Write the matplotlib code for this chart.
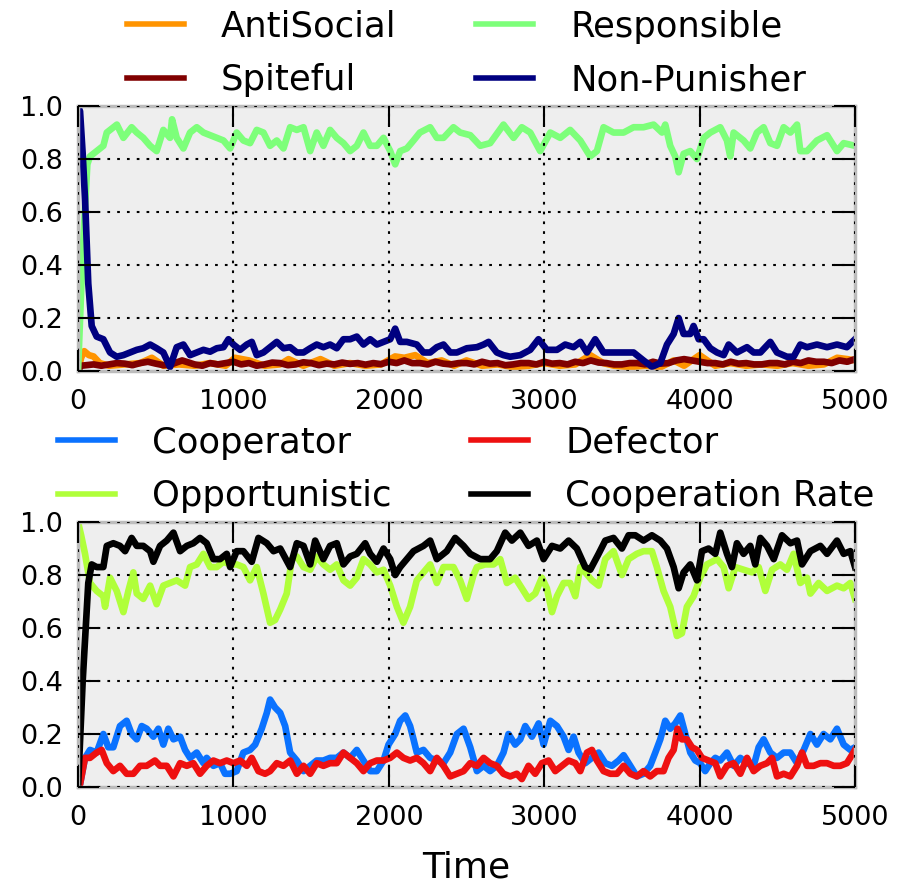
import matplotlib
matplotlib.use("Agg")
import matplotlib.pyplot as plt

# ---- population shares over time (time, share) ----
antisocial = [(0, 0.0), (20, 0.05), (40, 0.075), (70, 0.06), (100, 0.055), (140, 0.03), (200, 0.02),
              (300, 0.025), (400, 0.03), (475, 0.05), (550, 0.02), (650, 0.025), (750, 0.02), (850, 0.03),
              (950, 0.02), (1010, 0.05), (1100, 0.04), (1200, 0.02), (1300, 0.025), (1355, 0.045),
              (1450, 0.02), (1560, 0.045), (1650, 0.02), (1750, 0.03), (1850, 0.02), (1950, 0.025),
              (2040, 0.055), (2100, 0.05), (2170, 0.06), (2250, 0.03), (2340, 0.04), (2420, 0.02),
              (2500, 0.04), (2600, 0.02), (2700, 0.025), (2800, 0.015), (2900, 0.02), (3000, 0.03),
              (3100, 0.02), (3200, 0.025), (3296, 0.06), (3380, 0.03), (3450, 0.02), (3550, 0.015),
              (3650, 0.02), (3750, 0.015), (3833, 0.04), (3900, 0.02), (4000, 0.06), (4100, 0.02),
              (4200, 0.03), (4300, 0.02), (4400, 0.025), (4500, 0.02), (4600, 0.03), (4700, 0.02),
              (4800, 0.025), (4885, 0.05), (4950, 0.045), (5000, 0.04)]

spiteful = [(0, 0.0), (20, 0.02), (100, 0.025), (150, 0.02), (200, 0.025), (250, 0.03), (300, 0.028),
            (350, 0.022), (400, 0.03), (450, 0.035), (500, 0.028), (550, 0.022), (600, 0.025), (670, 0.04),
            (750, 0.025), (800, 0.02), (850, 0.03), (900, 0.025), (950, 0.03), (1000, 0.035), (1050, 0.025),
            (1100, 0.03), (1150, 0.02), (1200, 0.025), (1250, 0.032), (1300, 0.03), (1350, 0.022),
            (1400, 0.025), (1450, 0.033), (1500, 0.03), (1550, 0.022), (1600, 0.028), (1650, 0.025),
            (1700, 0.032), (1750, 0.027), (1800, 0.03), (1850, 0.024), (1900, 0.03), (1950, 0.026),
            (2000, 0.035), (2050, 0.03), (2100, 0.04), (2150, 0.03), (2200, 0.03), (2250, 0.025),
            (2300, 0.035), (2350, 0.028), (2400, 0.025), (2450, 0.03), (2500, 0.03), (2550, 0.025),
            (2600, 0.035), (2650, 0.028), (2700, 0.03), (2750, 0.022), (2800, 0.025), (2850, 0.03),
            (2900, 0.03), (2950, 0.025), (3000, 0.035), (3050, 0.028), (3100, 0.03), (3150, 0.025),
            (3200, 0.035), (3250, 0.03), (3300, 0.04), (3350, 0.032), (3400, 0.03), (3450, 0.025),
            (3500, 0.025), (3550, 0.03), (3600, 0.03), (3650, 0.025), (3700, 0.035), (3750, 0.028),
            (3800, 0.03), (3850, 0.04), (3900, 0.045), (3950, 0.04), (4000, 0.035), (4050, 0.03),
            (4100, 0.03), (4150, 0.025), (4200, 0.035), (4250, 0.028), (4300, 0.03), (4350, 0.025),
            (4400, 0.025), (4450, 0.03), (4500, 0.03), (4550, 0.025), (4600, 0.035), (4650, 0.03),
            (4700, 0.04), (4750, 0.035), (4800, 0.035), (4850, 0.03), (4900, 0.04), (4950, 0.035),
            (5000, 0.045)]

responsible = [(0, 0.0), (30, 0.45), (60, 0.78), (77, 0.81), (120, 0.83), (163, 0.85), (185, 0.90),
               (250, 0.93), (292, 0.88), (345, 0.92), (378, 0.90), (420, 0.88), (464, 0.85), (506, 0.83),
               (549, 0.91), (592, 0.88), (605, 0.95), (635, 0.88), (678, 0.84), (721, 0.90), (764, 0.92),
               (807, 0.90), (850, 0.89), (893, 0.88), (936, 0.87), (979, 0.84), (1021, 0.90), (1064, 0.87),
               (1107, 0.86), (1150, 0.91), (1193, 0.90), (1236, 0.85), (1279, 0.87), (1322, 0.84),
               (1365, 0.92), (1408, 0.91), (1451, 0.92), (1494, 0.83), (1536, 0.90), (1579, 0.85),
               (1622, 0.91), (1665, 0.88), (1708, 0.86), (1751, 0.83), (1794, 0.85), (1837, 0.90),
               (1880, 0.85), (1923, 0.85), (1966, 0.88), (2009, 0.83), (2041, 0.78), (2073, 0.83),
               (2116, 0.84), (2159, 0.87), (2200, 0.90), (2266, 0.92), (2309, 0.88), (2352, 0.88),
               (2416, 0.92), (2459, 0.90), (2524, 0.89), (2588, 0.85), (2652, 0.86), (2738, 0.93),
               (2803, 0.88), (2856, 0.92), (2910, 0.90), (2974, 0.83), (3039, 0.90), (3103, 0.88),
               (3167, 0.91), (3232, 0.87), (3296, 0.81), (3339, 0.83), (3382, 0.92), (3446, 0.90),
               (3511, 0.90), (3575, 0.92), (3639, 0.92), (3704, 0.93), (3758, 0.90), (3779, 0.93),
               (3811, 0.85), (3843, 0.81), (3865, 0.75), (3897, 0.82), (3940, 0.83), (3983, 0.80),
               (4026, 0.88), (4069, 0.90), (4133, 0.92), (4176, 0.87), (4197, 0.81), (4219, 0.90),
               (4283, 0.87), (4326, 0.84), (4369, 0.90), (4412, 0.92), (4455, 0.86), (4498, 0.85),
               (4541, 0.92), (4584, 0.90), (4627, 0.93), (4648, 0.83), (4691, 0.83), (4755, 0.87),
               (4820, 0.89), (4884, 0.83), (4927, 0.86), (5000, 0.85)]

non_punisher = [(0, 1.0), (13, 0.98), (30, 0.82), (45, 0.65), (66, 0.33), (88, 0.17), (120, 0.13),
                (163, 0.12), (206, 0.07), (249, 0.054), (292, 0.06), (335, 0.07), (378, 0.08), (420, 0.086),
                (464, 0.10), (506, 0.086), (549, 0.07), (592, 0.015), (635, 0.09), (678, 0.10), (721, 0.06),
                (764, 0.07), (807, 0.08), (850, 0.073), (893, 0.086), (936, 0.09), (968, 0.12), (1000, 0.10),
                (1043, 0.08), (1086, 0.10), (1118, 0.11), (1150, 0.06), (1193, 0.07), (1236, 0.09),
                (1279, 0.11), (1322, 0.086), (1365, 0.09), (1408, 0.07), (1451, 0.07), (1494, 0.086),
                (1536, 0.10), (1579, 0.09), (1622, 0.10), (1665, 0.086), (1708, 0.12), (1751, 0.12),
                (1794, 0.13), (1837, 0.10), (1880, 0.12), (1923, 0.10), (1966, 0.11), (2009, 0.12),
                (2041, 0.16), (2073, 0.11), (2116, 0.11), (2180, 0.10), (2223, 0.07), (2266, 0.07),
                (2309, 0.09), (2352, 0.10), (2395, 0.07), (2438, 0.07), (2502, 0.086), (2567, 0.09),
                (2610, 0.10), (2642, 0.11), (2695, 0.07), (2738, 0.06), (2781, 0.054), (2846, 0.06),
                (2910, 0.08), (2963, 0.12), (3017, 0.08), (3082, 0.08), (3135, 0.10), (3189, 0.09),
                (3232, 0.11), (3275, 0.07), (3328, 0.12), (3382, 0.07), (3446, 0.07), (3511, 0.07),
                (3575, 0.07), (3639, 0.04), (3693, 0.016), (3747, 0.03), (3790, 0.10), (3833, 0.14),
                (3865, 0.20), (3897, 0.14), (3940, 0.14), (3961, 0.17), (3994, 0.12), (4026, 0.12),
                (4069, 0.086), (4112, 0.07), (4155, 0.06), (4187, 0.10), (4240, 0.07), (4305, 0.09),
                (4348, 0.07), (4391, 0.07), (4455, 0.11), (4498, 0.07), (4562, 0.054), (4605, 0.054),
                (4648, 0.10), (4691, 0.09), (4755, 0.10), (4820, 0.09), (4884, 0.10), (4948, 0.09),
                (5000, 0.12)]

# ---- strategies and cooperation level over time (time, share) ----
cooperator = [(0, 0.0), (13, 0.01), (45, 0.11), (77, 0.14), (120, 0.13), (163, 0.20), (195, 0.15),
              (227, 0.15), (270, 0.23), (313, 0.25), (345, 0.20), (378, 0.18), (410, 0.23), (442, 0.22),
              (485, 0.19), (517, 0.22), (549, 0.16), (581, 0.22), (614, 0.18), (657, 0.19), (689, 0.14),
              (721, 0.11), (764, 0.13), (807, 0.09), (828, 0.11), (871, 0.08), (914, 0.09), (946, 0.05),
              (979, 0.05), (1021, 0.06), (1064, 0.13), (1107, 0.14), (1140, 0.16), (1182, 0.22),
              (1215, 0.28), (1236, 0.33), (1268, 0.30), (1301, 0.28), (1333, 0.23), (1365, 0.13),
              (1408, 0.10), (1451, 0.06), (1494, 0.08), (1536, 0.10), (1579, 0.10), (1622, 0.11),
              (1665, 0.11), (1708, 0.13), (1751, 0.11), (1794, 0.14), (1837, 0.10), (1880, 0.06),
              (1923, 0.06), (1966, 0.10), (1998, 0.16), (2041, 0.20), (2073, 0.25), (2106, 0.27),
              (2137, 0.23), (2159, 0.18), (2180, 0.13), (2223, 0.14), (2266, 0.11), (2309, 0.10),
              (2352, 0.09), (2395, 0.13), (2438, 0.20), (2481, 0.22), (2524, 0.15), (2567, 0.06),
              (2610, 0.08), (2652, 0.06), (2695, 0.08), (2738, 0.13), (2770, 0.20), (2813, 0.16),
              (2846, 0.18), (2878, 0.23), (2921, 0.19), (2964, 0.24), (2996, 0.16), (3039, 0.25),
              (3082, 0.23), (3125, 0.19), (3157, 0.14), (3189, 0.19), (3221, 0.13), (3264, 0.09),
              (3307, 0.11), (3350, 0.13), (3393, 0.09), (3436, 0.08), (3479, 0.10), (3511, 0.12),
              (3554, 0.08), (3596, 0.04), (3639, 0.05), (3682, 0.08), (3715, 0.13), (3747, 0.18),
              (3779, 0.25), (3811, 0.22), (3843, 0.24), (3876, 0.27), (3908, 0.20), (3940, 0.13),
              (3972, 0.10), (4004, 0.09), (4036, 0.06), (4069, 0.09), (4101, 0.11), (4133, 0.10),
              (4176, 0.13), (4219, 0.08), (4262, 0.11), (4305, 0.09), (4348, 0.08), (4380, 0.15),
              (4412, 0.18), (4455, 0.13), (4498, 0.11), (4541, 0.13), (4584, 0.13), (4627, 0.09),
              (4670, 0.14), (4713, 0.20), (4755, 0.16), (4798, 0.20), (4841, 0.18), (4884, 0.22),
              (4927, 0.16), (4970, 0.14), (5000, 0.15)]

opportunistic = [(0, 1.0), (20, 0.95), (45, 0.88), (77, 0.77), (120, 0.74), (163, 0.72), (174, 0.68),
                 (206, 0.79), (249, 0.74), (292, 0.66), (324, 0.74), (356, 0.81), (378, 0.73), (420, 0.71),
                 (464, 0.76), (506, 0.69), (549, 0.76), (592, 0.77), (635, 0.78), (689, 0.76), (721, 0.83),
                 (764, 0.84), (807, 0.88), (850, 0.83), (893, 0.83), (936, 0.85), (979, 0.84), (1021, 0.84),
                 (1064, 0.83), (1107, 0.78), (1150, 0.83), (1193, 0.73), (1236, 0.62), (1268, 0.63),
                 (1301, 0.67), (1343, 0.73), (1376, 0.86), (1408, 0.87), (1451, 0.83), (1494, 0.82),
                 (1536, 0.87), (1579, 0.84), (1622, 0.82), (1665, 0.84), (1708, 0.78), (1751, 0.76),
                 (1794, 0.79), (1837, 0.86), (1880, 0.84), (1923, 0.81), (1966, 0.82), (2009, 0.76),
                 (2052, 0.68), (2094, 0.62), (2137, 0.68), (2180, 0.78), (2223, 0.81), (2266, 0.84),
                 (2309, 0.77), (2352, 0.83), (2416, 0.83), (2459, 0.78), (2502, 0.71), (2545, 0.80),
                 (2567, 0.83), (2620, 0.84), (2674, 0.84), (2717, 0.86), (2760, 0.77), (2813, 0.79),
                 (2867, 0.74), (2899, 0.71), (2942, 0.73), (2985, 0.79), (3017, 0.75), (3050, 0.66),
                 (3082, 0.72), (3125, 0.77), (3167, 0.77), (3200, 0.72), (3232, 0.83), (3264, 0.81),
                 (3307, 0.78), (3350, 0.76), (3393, 0.86), (3446, 0.89), (3500, 0.80), (3543, 0.86),
                 (3596, 0.88), (3639, 0.89), (3693, 0.89), (3725, 0.83), (3768, 0.74), (3811, 0.68),
                 (3854, 0.57), (3886, 0.58), (3918, 0.68), (3961, 0.72), (4004, 0.79), (4047, 0.84),
                 (4112, 0.86), (4155, 0.83), (4187, 0.75), (4230, 0.83), (4283, 0.82), (4337, 0.81),
                 (4380, 0.83), (4423, 0.74), (4466, 0.82), (4519, 0.84), (4562, 0.82), (4605, 0.88),
                 (4648, 0.77), (4691, 0.79), (4713, 0.73), (4766, 0.77), (4820, 0.74), (4884, 0.76),
                 (4927, 0.75), (4970, 0.77), (5000, 0.71)]

defector = [(0, 0.0), (13, 0.01), (45, 0.11), (77, 0.11), (120, 0.13), (152, 0.14), (185, 0.09),
            (227, 0.06), (270, 0.08), (313, 0.05), (356, 0.05), (399, 0.08), (442, 0.08), (495, 0.10),
            (528, 0.08), (571, 0.08), (614, 0.04), (657, 0.09), (700, 0.08), (742, 0.09), (785, 0.05),
            (828, 0.08), (871, 0.10), (914, 0.09), (957, 0.10), (1000, 0.09), (1043, 0.10), (1086, 0.08),
            (1118, 0.11), (1161, 0.06), (1204, 0.05), (1236, 0.06), (1279, 0.09), (1322, 0.08),
            (1365, 0.10), (1408, 0.05), (1451, 0.08), (1494, 0.05), (1536, 0.09), (1579, 0.08),
            (1622, 0.09), (1665, 0.09), (1708, 0.13), (1751, 0.11), (1794, 0.09), (1837, 0.06),
            (1880, 0.09), (1923, 0.10), (1966, 0.10), (2009, 0.11), (2052, 0.13), (2094, 0.11),
            (2137, 0.10), (2180, 0.11), (2223, 0.09), (2266, 0.06), (2309, 0.11), (2352, 0.08),
            (2395, 0.04), (2438, 0.05), (2481, 0.06), (2524, 0.09), (2567, 0.08), (2610, 0.11),
            (2652, 0.09), (2695, 0.08), (2738, 0.05), (2781, 0.04), (2824, 0.05), (2856, 0.03),
            (2899, 0.08), (2942, 0.05), (2985, 0.09), (3028, 0.10), (3071, 0.06), (3114, 0.08),
            (3157, 0.10), (3200, 0.09), (3232, 0.06), (3275, 0.13), (3307, 0.14), (3339, 0.10),
            (3382, 0.06), (3425, 0.05), (3468, 0.05), (3511, 0.08), (3554, 0.05), (3596, 0.04),
            (3639, 0.06), (3682, 0.04), (3725, 0.06), (3768, 0.06), (3800, 0.11), (3833, 0.14),
            (3858, 0.22), (3886, 0.18), (3918, 0.18), (3951, 0.15), (3983, 0.14), (4015, 0.11),
            (4058, 0.10), (4101, 0.09), (4133, 0.04), (4176, 0.08), (4219, 0.09), (4262, 0.05),
            (4305, 0.11), (4348, 0.06), (4391, 0.08), (4434, 0.09), (4466, 0.11), (4498, 0.04),
            (4541, 0.05), (4584, 0.04), (4627, 0.08), (4659, 0.13), (4691, 0.08), (4734, 0.08),
            (4777, 0.09), (4820, 0.09), (4863, 0.08), (4905, 0.08), (4948, 0.09), (5000, 0.14)]

cooperation_rate = [(0, 0.0), (30, 0.4), (66, 0.77), (88, 0.84), (120, 0.83), (163, 0.83), (185, 0.91),
                    (227, 0.92), (270, 0.91), (303, 0.89), (345, 0.94), (378, 0.91), (420, 0.91), (464, 0.89),
                    (485, 0.85), (528, 0.91), (571, 0.93), (614, 0.96), (657, 0.89), (700, 0.91), (742, 0.92),
                    (785, 0.94), (828, 0.92), (871, 0.86), (914, 0.86), (957, 0.88), (979, 0.83), (1021, 0.89),
                    (1064, 0.89), (1118, 0.85), (1161, 0.94), (1215, 0.92), (1258, 0.89), (1301, 0.90),
                    (1365, 0.83), (1408, 0.92), (1451, 0.91), (1494, 0.84), (1526, 0.93), (1579, 0.86),
                    (1622, 0.91), (1665, 0.92), (1708, 0.84), (1751, 0.87), (1794, 0.88), (1848, 0.92),
                    (1880, 0.88), (1923, 0.85), (1966, 0.90), (2009, 0.86), (2041, 0.80), (2073, 0.83),
                    (2116, 0.86), (2159, 0.89), (2223, 0.91), (2266, 0.93), (2309, 0.86), (2373, 0.89),
                    (2427, 0.94), (2481, 0.91), (2524, 0.88), (2588, 0.86), (2652, 0.86), (2695, 0.89),
                    (2749, 0.96), (2792, 0.93), (2846, 0.96), (2899, 0.91), (2953, 0.93), (2996, 0.86),
                    (3050, 0.91), (3103, 0.90), (3157, 0.93), (3210, 0.90), (3264, 0.83), (3296, 0.82),
                    (3350, 0.88), (3393, 0.93), (3446, 0.94), (3500, 0.90), (3543, 0.95), (3586, 0.95),
                    (3639, 0.93), (3693, 0.95), (3747, 0.93), (3790, 0.90), (3833, 0.83), (3865, 0.75),
                    (3897, 0.81), (3940, 0.84), (3983, 0.78), (4015, 0.89), (4058, 0.90), (4101, 0.88),
                    (4133, 0.96), (4176, 0.88), (4208, 0.83), (4240, 0.92), (4283, 0.88), (4326, 0.91),
                    (4358, 0.84), (4391, 0.94), (4434, 0.91), (4477, 0.86), (4530, 0.95), (4584, 0.92),
                    (4627, 0.93), (4659, 0.84), (4713, 0.89), (4777, 0.91), (4820, 0.88), (4884, 0.93),
                    (4927, 0.88), (4970, 0.89), (5000, 0.83)]

x_ticks = [0, 1000, 2000, 3000, 4000, 5000]
y_ticks = [0.0, 0.2, 0.4, 0.6, 0.8, 1.0]

top_series = [("AntiSocial", antisocial, "#ff9400"),
              ("Spiteful", spiteful, "#800000"),
              ("Responsible", responsible, "#7dff7a"),
              ("Non-Punisher", non_punisher, "#000080")]
bottom_series = [("Cooperator", cooperator, "#0a72ff"),
                 ("Opportunistic", opportunistic, "#b0ff3a"),
                 ("Defector", defector, "#ee1010"),
                 ("Cooperation Rate", cooperation_rate, "#000000")]

fig = plt.figure(figsize=(9.02, 8.83), dpi=100)
ax_top = fig.add_axes([0.0865, 0.5798, 0.8614, 0.3001])
ax_bot = fig.add_axes([0.0865, 0.1087, 0.8614, 0.3001])


def style_axes(ax):
    ax.set_facecolor("#eeeeee")
    ax.set_xlim(0, 5000)
    ax.set_ylim(0, 1)
    ax.set_xticks(x_ticks)
    ax.set_xticklabels([str(t) for t in x_ticks])
    ax.set_yticks(y_ticks)
    ax.set_yticklabels([f"{v:.1f}" for v in y_ticks])
    ax.set_axisbelow(False)
    ax.grid(True, color="black", linestyle=(0, (1.3, 3.4)), linewidth=1.5)
    ax.tick_params(direction="in", length=15, width=1.5, top=True, right=True,
                   labelsize=19.5, color="black")
    ax.tick_params(axis="x", pad=13)
    ax.tick_params(axis="y", pad=11)
    for sp in ax.spines.values():
        sp.set_color("#bcbcbc")
        sp.set_linewidth(2.5)


def draw(ax, series):
    for name, pts, col in series:
        ts = [p[0] for p in pts]
        vs = [p[1] for p in pts]
        ax.plot(ts, vs, color=col, lw=4.8, label=name, solid_joinstyle="round")
    leg = ax.legend(loc="lower center", bbox_to_anchor=(0.5, 1.0), ncol=2, frameon=False,
                    fontsize=25.5, handlelength=1.6, handletextpad=1.05, columnspacing=2.25,
                    labelspacing=0.55, borderpad=0.0, borderaxespad=0.25)
    for h in leg.get_lines():
        h.set_linewidth(4)


style_axes(ax_top)
style_axes(ax_bot)
draw(ax_top, top_series)
draw(ax_bot, bottom_series)
ax_bot.set_xlabel("Time", fontsize=26, labelpad=14)

fig.savefig("out.png", dpi=100)
